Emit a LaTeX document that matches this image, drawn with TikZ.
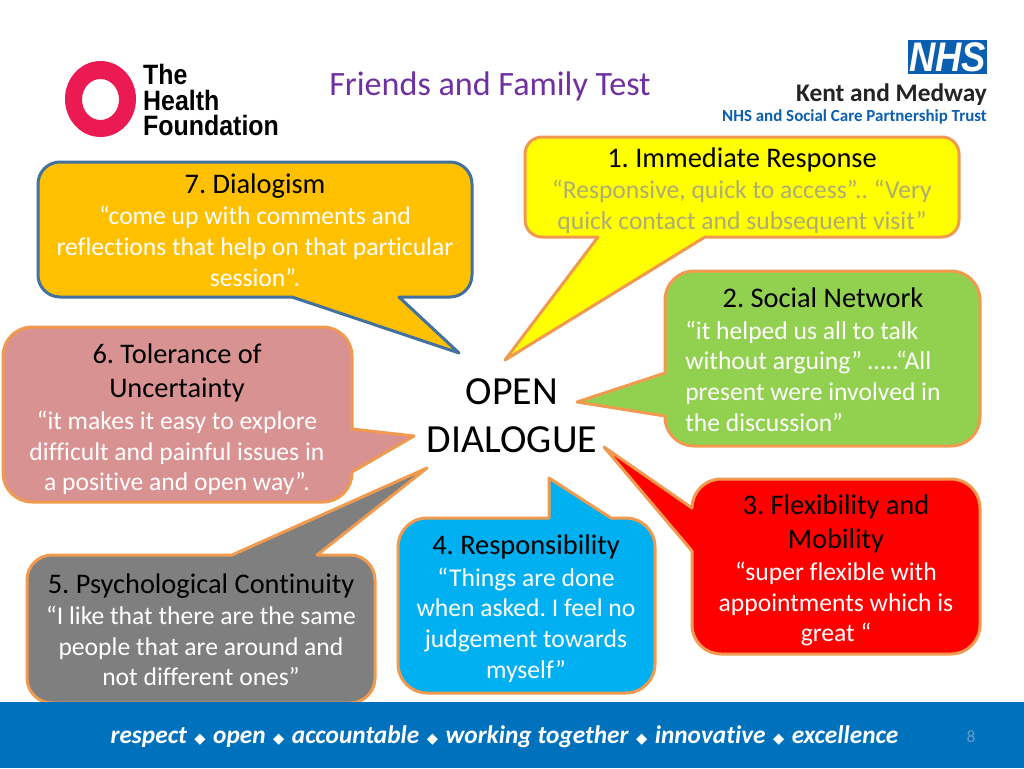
\documentclass[tikz,border=0pt]{standalone}
\usepackage{fontspec}
\setmainfont[Ligatures=NoCommon]{Carlito}
\newfontfamily\logofont{Liberation Sans}
\newfontfamily\symbfont{DejaVu Sans}
\usetikzlibrary{positioning}
\definecolor{bandblue}{HTML}{0071BC}
\definecolor{ringred}{HTML}{EC1A52}
\definecolor{nhsblue}{HTML}{0B5FB0}
\definecolor{titlepurple}{HTML}{7030A0}
\definecolor{edgeorange}{HTML}{F09A50}
\definecolor{edgeblue}{HTML}{41719C}
\definecolor{quotegrey}{HTML}{ADAD72}
\definecolor{immfill}{HTML}{FFFF00}
\definecolor{netfill}{HTML}{92D050}
\definecolor{flexfill}{HTML}{FF0000}
\definecolor{respfill}{HTML}{00B0F0}
\definecolor{contfill}{HTML}{7F7F7F}
\definecolor{tolfill}{HTML}{D99292}
\definecolor{diafill}{HTML}{FFC000}
\newcommand{\valsep}{\hspace{1.3pt}{\symbfont\upshape\fontsize{11}{11}\selectfont ◆}\hspace{1.3pt}}
\begin{document}
\frenchspacing
\begin{tikzpicture}[x=0.75pt,y=-0.75pt,
    bubble/.style = {draw=edgeorange, line width=2.25pt, line join=round},
    head/.style = {inner sep=0pt, align=center, font=\fontsize{21.3}{25.9}\selectfont},
    quote/.style = {inner sep=0pt, align=center, text=white, font=\fontsize{19.2}{23}\selectfont}]
    \useasboundingbox (0,0) rectangle (1024,768);
    \fill[white] (0,0) rectangle (1024,768);

    % bubbles
    \draw[bubble, fill=immfill, rounded corners=12.75pt] (742,137) -- (959,137) -- (959,237) [sharp corners] -- (705,237) -- (505,360) -- (598,237) [rounded corners=12.75pt] -- (525,237) -- (525,137) -- cycle;
    \draw[bubble, fill=netfill, rounded corners=21.75pt] (823,271) -- (980,271) -- (980,446) -- (665,446) [sharp corners] -- (665,416) -- (577,402) -- (665,373) [rounded corners=21.75pt] -- (665,271) -- cycle;
    \draw[bubble, fill=flexfill, rounded corners=21.75pt] (836,479) -- (980,479) -- (980,654) -- (692,654) [sharp corners] -- (692,551) -- (604,447) -- (692,508) [rounded corners=21.75pt] -- (692,479) -- cycle;
    \draw[bubble, fill=respfill, rounded corners=21.75pt] (526,693) -- (398,693) -- (398,518) [sharp corners] -- (549,518) -- (549,478) -- (611,518) [rounded corners=21.75pt] -- (655,518) -- (655,693) -- cycle;
    \draw[bubble, fill=contfill, rounded corners=18.75pt] (201,703) -- (27,703) -- (27,555) [sharp corners] -- (232,555) -- (427,468) -- (317,555) [rounded corners=18.75pt] -- (375,555) -- (375,703) -- cycle;
    \draw[bubble, fill=tolfill, rounded corners=21.75pt] (177,327) -- (352,327) [sharp corners] -- (352,429) -- (414,436) -- (352,472) [rounded corners=21.75pt] -- (352,502) -- (3,502) -- (3,327) -- cycle;
    \draw[bubble, draw=edgeblue, fill=diafill, rounded corners=16.5pt] (255,162) -- (472,162) -- (472,297) [sharp corners] -- (399,297) -- (459,353) -- (292,297) [rounded corners=16.5pt] -- (38,297) -- (38,162) -- cycle;

    % bubble texts
    \node at (742,160) [head] (immhead) {1. Immediate Response};
    \node at (742,206.5) [quote, text=quotegrey] (immquote) {“Responsive, quick to access”.. “Very\\quick contact and subsequent visit”};
    \node at (823,298) [head] (nethead) {2. Social Network};
    \node at (685,376) [quote, anchor=west, align=left] (netquote) {“it helped us all to talk\\without arguing” …..“All\\present were involved in\\the discussion”};
    \node at (836,524) [head] (flexhead) {3. Flexibility and\\Mobility};
    \node at (836,604) [quote] (flexquote) {“super flexible with\\appointments which is\\great “};
    \node at (526,547) [head] (resphead) {4. Responsibility};
    \node at (526,625) [quote] (respquote) {“Things are done\\when asked. I feel no\\judgement towards\\myself”};
    \node at (201,586) [head] (conthead) {5. Psychological Continuity};
    \node at (201,646) [quote] (contquote) {“I like that there are the same\\people that are around and\\not different ones”};
    \node at (177,373) [head] (tolhead) {6. Tolerance of\\Uncertainty};
    \node at (177,453) [quote] (tolquote) {“it makes it easy to explore\\difficult and painful issues in\\a positive and open way”.};
    \node at (255,186) [head] (diahead) {7. Dialogism};
    \node at (255,246.5) [quote] (diaquote) {“come up with comments and\\reflections that help on that particular\\session”.};
    \node at (512,416) [inner sep=0pt, align=center, font=\fontsize{29.9}{36}\selectfont] (open) {OPEN\\DIALOGUE};

    % header
    \node at (490,86) [inner sep=0pt, text=titlepurple, font=\fontsize{25.6}{30}\selectfont] (title) {Friends and Family Test};
    \fill[ringred, even odd rule] (100.5,99) ellipse [x radius=35.5, y radius=38] (100.5,99.5) ellipse [x radius=18.5, y radius=20.5];
    \node at (143,100) [anchor=west, inner sep=0pt, align=left, xscale=0.89, transform shape, font=\logofont\bfseries\fontsize{21}{19}\selectfont] (found) {The\\Health\\Foundation};
    \node at (947.5,57) [fill=nhsblue, minimum width=59.25pt, minimum height=25.5pt, inner sep=0pt, text=white, font=\logofont\bfseries\itshape\fontsize{31}{31}\selectfont] (nhs) {\scalebox{0.88}[1]{NHS}};
    \node at (987,94.5) [anchor=east, inner sep=0pt, text={rgb,255:red,35;green,35;blue,35}, font=\bfseries\fontsize{19}{22}\selectfont] (kent) {Kent and Medway};
    \node at (987,117) [anchor=east, inner sep=0pt, text=nhsblue, font=\bfseries\fontsize{12.7}{16}\selectfont] (trust) {NHS and Social Care Partnership Trust};

    % footer
    \fill[bandblue] (0,702) rectangle (1024,768);
    \node at (504.5,737) [inner sep=0pt, text=white, font=\bfseries\itshape\fontsize{19}{22}\selectfont] (values) {respect \valsep{} open \valsep{} accountable \valsep{} working together \valsep{} innovative \valsep{} excellence};
    \node at (971,737) [inner sep=0pt, text={rgb,255:red,100;green,155;blue,200}, font=\fontsize{13}{15}\selectfont] (page) {8};
\end{tikzpicture}
\end{document}
